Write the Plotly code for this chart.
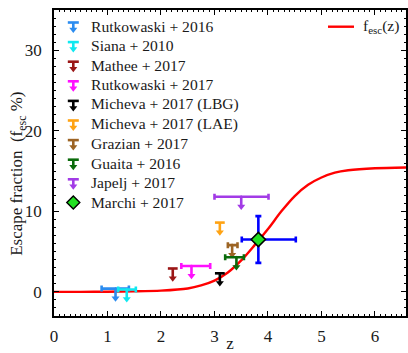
import plotly.graph_objects as go

# ---------------- data ----------------
curve_z = [0.0, 0.5, 1.0, 1.5, 2.0, 2.5, 2.75, 3.0, 3.25, 3.5, 3.75, 4.0, 4.25, 4.5, 4.75, 5.0, 5.25, 5.5, 6.0, 6.6]
curve_f = [0.0, 0.0, 0.02, 0.06, 0.15, 0.42, 0.8, 1.4, 2.4, 3.9, 5.8, 7.8, 10.0, 11.9, 13.3, 14.2, 14.8, 15.1, 15.35, 15.45]

lim_labels = ["Rutkowaski + 2016", "Siana + 2010", "Mathee + 2017", "Rutkowaski + 2017",
              "Micheva + 2017 (LBG)", "Micheva + 2017 (LAE)", "Grazian + 2017",
              "Guaita + 2016", "Japelj + 2017"]
lim_colors = ["#2b8cf0", "#10e8f0", "#9b1616", "#ff10ff", "#000000", "#ffa313",
              "#9c6424", "#0b6b0b", "#a23be6"]
lim_z = [1.15, 1.36, 2.22, 2.57, 3.10, 3.10, 3.33, 3.41, 3.50]
lim_f = [0.4, 0.3, 2.9, 3.2, 2.3, 8.6, 5.8, 4.3, 11.8]
lim_zminus = [0.26, 0.16, 0.0, 0.19, 0.0, 0.0, 0.08, 0.21, 0.50]
lim_zplus = [0.25, 0.17, 0.0, 0.35, 0.0, 0.0, 0.10, 0.14, 0.51]

marchi_label = "Marchi + 2017"
marchi_z = [3.82]
marchi_f = [6.5]
marchi_zminus = [0.31]
marchi_zplus = [0.70]
marchi_fminus = [2.9]
marchi_fplus = [2.9]

curve_label = "f<sub>esc</sub>(z)"
x_title = "z"
y_title = "Escape fraction  (f<sub>esc</sub> %)"

# ---------------- style ----------------
FONT = "Liberation Serif"
TXT = "#1a1a1a"
ARROW = 1.2          # stem length in data units
THICK = 2.6
PW, PH = 352, 306    # plot area size in px (for overlay legend axes)
LEGFS = 15.6

fig = go.Figure()

# model curve
fig.add_trace(go.Scatter(x=curve_z, y=curve_f, mode="lines",
                         line=dict(color="#ff0000", width=2.4, shape="spline", smoothing=0.8),
                         showlegend=False, hoverinfo="skip"))

# upper limits
for z, f, lo, hi, c in zip(lim_z, lim_f, lim_zminus, lim_zplus, lim_colors):
    has_x = (lo + hi) > 0
    kw = {}
    if has_x:
        kw["error_x"] = dict(type="data", symmetric=False, array=[hi], arrayminus=[lo],
                             color=c, thickness=THICK, width=3)
    fig.add_trace(go.Scatter(
        x=[z], y=[f], mode="markers",
        marker=dict(symbol="line-ew", size=7 if not has_x else 1,
                    line=dict(color=c, width=THICK), color=c),
        error_y=dict(type="data", symmetric=False, array=[0], arrayminus=[ARROW],
                     color=c, thickness=THICK, width=0),
        showlegend=False, hoverinfo="skip", **kw))
    fig.add_trace(go.Scatter(
        x=[z], y=[f - ARROW], mode="markers",
        marker=dict(symbol="triangle-down", size=7, color=c, line=dict(width=0)),
        showlegend=False, hoverinfo="skip"))

# Marchi point
fig.add_trace(go.Scatter(
    x=marchi_z, y=marchi_f, mode="markers",
    marker=dict(symbol="diamond", size=11, color="#22e022", line=dict(color="#000000", width=1.6)),
    error_x=dict(type="data", symmetric=False, array=marchi_zplus, arrayminus=marchi_zminus,
                 color="#0000ff", thickness=THICK, width=3),
    error_y=dict(type="data", symmetric=False, array=marchi_fplus, arrayminus=marchi_fminus,
                 color="#0000ff", thickness=THICK, width=3),
    showlegend=False, hoverinfo="skip"))

# ---------------- hand-made legend on overlay pixel axes ----------------
GX, TX = 19.3, 35.0
ROW0, ROWSTEP = 16.0, 19.6
annotations = []
all_labels = lim_labels + [marchi_label]
for i, lab in enumerate(all_labels):
    gy = ROW0 + ROWSTEP * i
    if i < len(lim_labels):
        c = lim_colors[i]
        fig.add_trace(go.Scatter(
            x=[GX - 5.5, GX + 5.5, None, GX, GX],
            y=[gy - 3.5, gy - 3.5, None, gy - 3.5, gy + 3],
            mode="lines", line=dict(color=c, width=THICK),
            xaxis="x2", yaxis="y2", showlegend=False, hoverinfo="skip"))
        fig.add_trace(go.Scatter(
            x=[GX], y=[gy + 3.5], mode="markers",
            marker=dict(symbol="triangle-down", size=7, color=c, line=dict(width=0)),
            xaxis="x2", yaxis="y2", showlegend=False, hoverinfo="skip"))
    else:
        fig.add_trace(go.Scatter(
            x=[GX], y=[gy], mode="markers",
            marker=dict(symbol="diamond", size=10, color="#22e022", line=dict(color="#000000", width=1.4)),
            xaxis="x2", yaxis="y2", showlegend=False, hoverinfo="skip"))
    annotations.append(dict(x=TX, y=gy, xref="x2", yref="y2", text=lab, showarrow=False,
                            xanchor="left", yanchor="middle",
                            font=dict(family=FONT, size=LEGFS, color=TXT)))

# curve legend (top right)
fig.add_trace(go.Scatter(x=[274, 300], y=[16.7, 16.7], mode="lines",
                         line=dict(color="#ff0000", width=2.4),
                         xaxis="x2", yaxis="y2", showlegend=False, hoverinfo="skip"))
annotations.append(dict(x=307, y=16.7, xref="x2", yref="y2", text=curve_label, showarrow=False,
                        xanchor="left", yanchor="middle",
                        font=dict(family=FONT, size=LEGFS, color=TXT)))

# y-axis title as rotated annotation (placed like the reference)
annotations.append(dict(x=-0.102, y=0.465, xref="paper", yref="paper", text=y_title,
                        showarrow=False, textangle=-90, xanchor="center", yanchor="middle",
                        font=dict(family=FONT, size=17, color=TXT)))

axis_common = dict(showline=True, linecolor="#000000", linewidth=1.8, mirror="ticks",
                   ticks="inside", ticklen=5, tickwidth=1.4, tickcolor="#000000",
                   showgrid=False, zeroline=False, automargin=False,
                   tickfont=dict(family=FONT, size=17, color=TXT))

fig.update_layout(
    width=408, height=353,
    margin=dict(l=54, r=2, t=10, b=37),
    paper_bgcolor="white", plot_bgcolor="white",
    showlegend=False,
    xaxis=dict(range=[0, 6.58], tickmode="linear", tick0=0, dtick=1, ticklabelstandoff=4,
               minor=dict(ticks="inside", ticklen=2.5, tickwidth=1.2, tickcolor="#000000", dtick=0.1, showgrid=False),
               title=dict(text=x_title, font=dict(family=FONT, size=17, color=TXT), standoff=2),
               **axis_common),
    yaxis=dict(range=[-3, 35], tickmode="linear", tick0=0, dtick=10, ticklabelstandoff=7,
               minor=dict(ticks="inside", ticklen=2.5, tickwidth=1.2, tickcolor="#000000", dtick=1, showgrid=False),
               **axis_common),
    xaxis2=dict(overlaying="x", anchor="y2", range=[0, PW], visible=False, fixedrange=True),
    yaxis2=dict(overlaying="y", anchor="x2", range=[PH, 0], visible=False, fixedrange=True),
    annotations=annotations,
    font=dict(family=FONT, color=TXT),
)

fig.write_html("out.html")
